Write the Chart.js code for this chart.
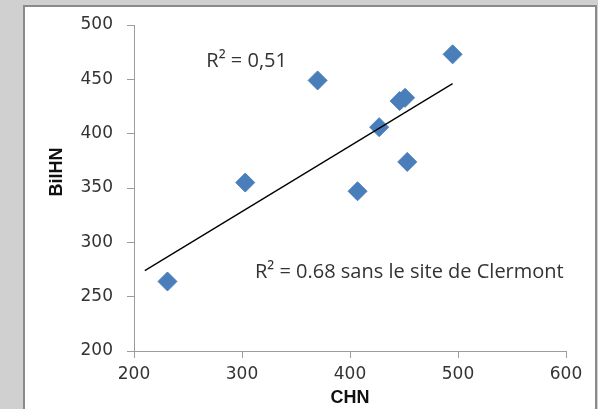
<!DOCTYPE html>
<html>
<head>
<meta charset="utf-8">
<script src="https://cdn.jsdelivr.net/npm/chart.js@4.4.1/dist/chart.umd.min.js"></script>
<style>
  html, body { margin: 0; padding: 0; background: #d0d0d0; overflow: hidden; }
  #panel {
    position: absolute; left: 23px; top: 5px; width: 570px; height: 420px;
    background: #ffffff; border: 2px solid #8a8a8a; border-bottom: none;
  }
  #wrap { position: absolute; left: 0; top: 0; width: 598px; height: 409px; }
</style>
</head>
<body>
<div id="panel"></div>
<div id="wrap"><canvas id="chart" width="598" height="409"></canvas></div>
<script>
// CHN vs BilHN per site
const chnValues   = [231, 303, 370, 407, 446, 451, 427, 453, 495];
const bilhnValues = [264, 355, 449, 347, 430, 433, 406, 374, 473];

// linear trend line end points
const trendX = [210, 495];
const trendY = [274, 446];

// axis ticks
const xTicks = [200, 300, 400, 500, 600];
const yTicks = [200, 250, 300, 350, 400, 450, 500];

const xTitle = 'CHN';
const yTitle = 'BilHN';
const fitLabel = 'R² = 0,51';
const fitLabelNoClermont = 'R² = 0.68 sans le site de Clermont';

const points = chnValues.map((x, i) => ({ x: x, y: bilhnValues[i] }));
const trend = trendX.map((x, i) => ({ x: x, y: trendY[i] }));

const axisColor = '#9c9c9c';
const textColor = '#333333';

const textPlugin = {
  id: 'chartTexts',
  afterDraw(chart) {
    const ctx = chart.ctx;
    const xs = chart.scales.x, ys = chart.scales.y;
    ctx.save();
    ctx.fillStyle = textColor;
    ctx.textBaseline = 'middle';
    ctx.textAlign = 'left';
    ctx.font = '20px "Open Sans", sans-serif';
    ctx.fillText(fitLabel, xs.getPixelForValue(267), ys.getPixelForValue(467));
    ctx.fillText(fitLabelNoClermont, xs.getPixelForValue(312), ys.getPixelForValue(272));

    ctx.fillStyle = '#111111';
    ctx.font = 'bold 18px "Liberation Sans", sans-serif';
    ctx.textAlign = 'center';
    ctx.fillText(xTitle, (chart.chartArea.left + chart.chartArea.right) / 2, 398);
    ctx.translate(57, 172);
    ctx.rotate(-Math.PI / 2);
    ctx.fillText(yTitle, 0, 0);
    ctx.restore();
  }
};

new Chart(document.getElementById('chart'), {
  type: 'scatter',
  data: {
    datasets: [
      {
        label: 'BilHN',
        data: points,
        pointStyle: 'rectRot',
        pointRadius: 9.5,
        pointHoverRadius: 9.5,
        backgroundColor: '#4a7ebb',
        borderColor: '#4a7ebb',
        borderWidth: 1,
        order: 2
      },
      {
        label: 'Tendance',
        type: 'line',
        data: trend,
        borderColor: '#000000',
        borderWidth: 1.3,
        pointRadius: 0,
        fill: false,
        tension: 0,
        order: 1
      }
    ]
  },
  options: {
    responsive: false,
    animation: false,
    events: [],
    layout: { padding: { left: 0, top: 25, right: 32, bottom: 0 } },
    plugins: {
      legend: { display: false },
      tooltip: { enabled: false },
      title: { display: false }
    },
    scales: {
      x: {
        type: 'linear',
        min: xTicks[0],
        max: xTicks[xTicks.length - 1],
        afterBuildTicks(scale) { scale.ticks = xTicks.map(v => ({ value: v })); },
        afterFit(scale) { scale.height = 58; },
        grid: { drawOnChartArea: false, drawTicks: true, tickLength: 7, color: axisColor, lineWidth: 1 },
        border: { color: axisColor, width: 1 },
        ticks: { color: textColor, padding: 6, font: { family: '"DejaVu Sans", sans-serif', size: 17 } }
      },
      y: {
        type: 'linear',
        min: yTicks[0],
        max: yTicks[yTicks.length - 1],
        afterBuildTicks(scale) { scale.ticks = yTicks.map(v => ({ value: v })); },
        afterFit(scale) { scale.width = 134; },
        grid: { drawOnChartArea: false, drawTicks: true, tickLength: 7, color: axisColor, lineWidth: 1 },
        border: { color: axisColor, width: 1 },
        ticks: { color: textColor, padding: 14, font: { family: '"DejaVu Sans", sans-serif', size: 17 } }
      }
    }
  },
  plugins: [textPlugin]
});
</script>
</body>
</html>
